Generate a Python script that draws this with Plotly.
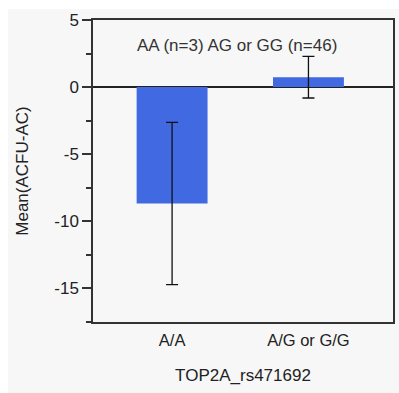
import plotly.graph_objects as go

# Genotype groups and their mean ACFU-AC with error half-widths
genotypes = ["A/A", "A/G or G/G"]
means = [-8.67, 0.74]
errors = [6.05, 1.55]

# Y tick values and labels (plain hyphen for negatives)
y_tickvals = [5, 0, -5, -10, -15]
y_ticktext = ["5", "0", "-5", "-10", "-15"]

x_title = "TOP2A_rs471692"
y_title = "Mean(ACFU-AC)"
group_note = "AA (n=3) AG or GG (n=46)"

font_family = "Liberation Sans, Arial, sans-serif"

fig = go.Figure()
fig.add_trace(go.Bar(
    x=genotypes,
    y=means,
    width=0.52,
    marker=dict(color="#4169E1", line=dict(width=0)),
    error_y=dict(type="data", array=errors, visible=True,
                 color="#111111", thickness=1.3, width=6),
    showlegend=False,
))

# Light gray canvas behind the framed plot area
fig.add_shape(type="rect", xref="paper", yref="paper",
              x0=-0.2835, x1=1.02, y0=-0.24, y1=1.0364,
              fillcolor="#f7f7f7", line=dict(width=0), layer="below")

fig.add_annotation(x=0.48, y=0.917, xref="paper", yref="paper",
                   xanchor="center", yanchor="middle",
                   text=group_note, showarrow=False,
                   font=dict(size=17, color="#333333", family=font_family))

fig.update_layout(
    width=399, height=393,
    margin=dict(l=93, r=4, t=20, b=71),
    paper_bgcolor="white",
    plot_bgcolor="white",
    font=dict(family=font_family, color="#222222", size=16),
    xaxis=dict(
        range=[-0.58, 1.62],
        showline=True, linecolor="#333333", linewidth=1.5, mirror=True,
        showgrid=False, ticks="", zeroline=False,
        tickfont=dict(size=16.5),
        ticklabelstandoff=2,
        title=dict(text=x_title, font=dict(size=17), standoff=22),
    ),
    yaxis=dict(
        range=[-17.5, 5],
        tickvals=y_tickvals,
        ticktext=y_ticktext,
        showline=True, linecolor="#333333", linewidth=1.5, mirror=True,
        showgrid=False,
        ticks="outside", ticklen=9, tickwidth=1.5, tickcolor="#333333",
        minor=dict(dtick=2.5, tick0=0, ticks="outside", ticklen=5,
                   tickwidth=1.5, tickcolor="#333333", showgrid=False),
        zeroline=True, zerolinecolor="#222222", zerolinewidth=1.5,
        tickfont=dict(size=17),
        title=dict(text=y_title, font=dict(size=17), standoff=21),
    ),
)

fig.write_html("out.html")
